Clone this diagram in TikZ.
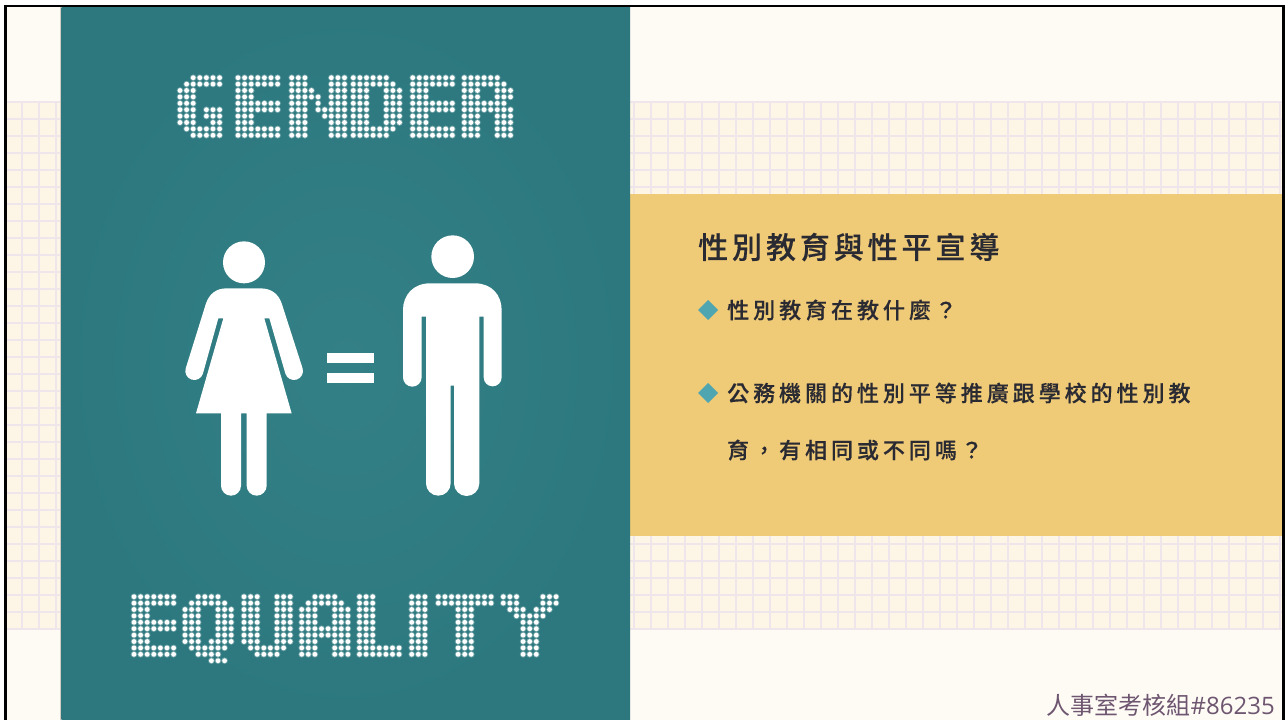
\documentclass[tikz,border=0pt]{standalone}
\usepackage{fontspec}
\newfontfamily\cjktitle[LetterSpace=13,FakeBold=0.35]{Noto Sans CJK TC Medium}
\newfontfamily\cjkbody[LetterSpace=18,FakeBold=0.35]{Noto Sans CJK TC Medium}
\newfontfamily\cjkplain{Noto Sans CJK TC}
\newfontfamily\latinplain{Open Sans}
\definecolor{teal}{HTML}{2C787E}
\definecolor{tealin}{HTML}{338086}
\definecolor{paper}{HTML}{FEFBF5}
\definecolor{cell}{HTML}{FDF6E7}
\definecolor{gridline}{HTML}{EEE6EA}
\definecolor{band}{HTML}{EFCA77}
\definecolor{ink}{HTML}{2A2A33}
\definecolor{gem}{HTML}{4FA6B0}
\definecolor{foot}{HTML}{6E5670}
\definecolor{paneledge}{HTML}{CFCBC2}
\tikzset{
  gridstroke/.style={draw=gridline,line width=2pt},
  dotfill/.style={fill=white},
  dothalo/.style={fill=white,fill opacity=0.3},
  figfill/.style={fill=white},
  gemfill/.style={fill=gem},
  titletext/.style={anchor=west,inner sep=0pt,text=ink,font={\cjktitle\fontsize{30}{32}\selectfont}},
  bodytext/.style={anchor=west,inner sep=0pt,text=ink,font={\cjkbody\fontsize{22}{24}\selectfont}},
  foottext/.style={anchor=east,inner sep=0pt,text=foot}
}
\newcommand\dmscan[1]{\ifx#1.\else\ifx#1x\fill[dothalo] (\xx,\yy) circle[radius=3.3];\fill[dotfill] (\xx,\yy) circle[radius=2.4];\fi\pgfmathsetmacro\xx{\xx+6.6}\expandafter\dmscan\fi}
\newcommand\dmletter[3]{%
  \foreach \rowtxt [count=\i from 0] in {#3} {%
    \pgfmathsetmacro\yy{#2+\i*6.4}\def\xx{#1}\expandafter\dmscan\rowtxt.}}
\begin{document}
\begin{tikzpicture}[x=1pt,y=-1pt]
\useasboundingbox (0,0) rectangle (1285,720);
\fill[white] (0,0) rectangle (1285,720);
\fill[black] (4,5) rectangle (1285,720);
\fill[paper] (7,7) rectangle (1282,720);
% grid band
\fill[cell] (7,102) rectangle (1282,629);
\foreach \gx in {22,39,...,1280} \draw[gridstroke] (\gx,102) -- (\gx,629);
\foreach \gy in {102,119,...,629} \draw[gridstroke] (7,\gy) -- (1282,\gy);
% yellow band
\fill[band] (630,194) rectangle (1282,536);
% teal panel
\fill[paneledge] (60.3,7) rectangle (62,720);
\fill[teal] (61.5,7) rectangle (630,720);
\shade[inner color=tealin,outer color=teal] (61.5,7) rectangle (630,720);
% GENDER
\def\ga{77.7}
\dmletter{180}{\ga}{--xxxxx,-xxxxxx,xxx----,xxx----,xxx----,xxx-xxx,xxx-xxx,xxx--xx,-xxxxxx,--xxxxx}
\dmletter{238}{\ga}{xxxxxxx,xxxxxxx,xxx----,xxx----,xxxxxxx,xxxxxxx,xxx----,xxx----,xxxxxxx,xxxxxxx}
\dmletter{291.7}{\ga}{xxx---xxx,xxx---xxx,xxxx--xxx,xxxxx-xxx,xxx-x-xxx,xxx-xxxxx,xxx--xxxx,xxx---xxx,xxx---xxx,xxx---xxx}
\dmletter{353.3}{\ga}{xxxxxx--,xxxxxxx-,xxx--xxx,xxx--xxx,xxx--xxx,xxx--xxx,xxx--xxx,xxx--xxx,xxxxxxx-,xxxxxx--}
\dmletter{412.7}{\ga}{xxxxxxx,xxxxxxx,xxx----,xxx----,xxxxxxx,xxxxxxx,xxx----,xxx----,xxxxxxx,xxxxxxx}
\dmletter{464.3}{\ga}{xxxxxx--,xxxxxxx-,xxx--xxx,xxx--xxx,xxxxxxx-,xxxxxxxx,xxx--xxx,xxx--xxx,xxx--xxx,xxx--xxx}
% EQUALITY
\def\gb{596.7}
\dmletter{134}{\gb}{xxxxxxx,xxxxxxx,xxx----,xxx----,xxxxxxx,xxxxxxx,xxx----,xxx----,xxxxxxx,xxxxxxx}
\dmletter{185}{\gb}{--xxxx--,-xxxxxx-,xxx--xxx,xxx--xxx,xxx--xxx,xxx--xxx,xxx--xxx,xxx-xxxx,-xxxxxx-,--xxxx--,----xxx-}
\dmletter{244}{\gb}{xxx--xxx,xxx--xxx,xxx--xxx,xxx--xxx,xxx--xxx,xxx--xxx,xxx--xxx,xxx--xxx,-xxxxxx-,--xxxx--}
\dmletter{301.7}{\gb}{--xxxx--,-xxxxxx-,xxx--xxx,xxx--xxx,xxx--xxx,xxxxxxxx,xxxxxxxx,xxx--xxx,xxx--xxx,xxx--xxx}
\dmletter{359.5}{\gb}{xxx----,xxx----,xxx----,xxx----,xxx----,xxx----,xxx----,xxx----,xxxxxxx,xxxxxxx}
\dmletter{411.7}{\gb}{xxx,xxx,xxx,xxx,xxx,xxx,xxx,xxx,xxx,xxx}
\dmletter{438.3}{\gb}{xxxxxxxxx,xxxxxxxxx,---xxx---,---xxx---,---xxx---,---xxx---,---xxx---,---xxx---,---xxx---,---xxx---}
\dmletter{503.3}{\gb}{xxx---xxx,xxx---xxx,-xxx-xxx-,--xxxxx--,---xxx---,---xxx---,---xxx---,---xxx---,---xxx---,---xxx---}
% figures, in 3x crop units
\begin{scope}[shift={(170,220)},x=0.33333pt,y=-0.33333pt]
  \fill[figfill] (222,127) circle[radius=63];
  \fill[figfill] (170,205) -- (270,205) .. controls (305,205) and (325,222) .. (335,250)
    -- (397.7,444.8) arc[start angle=-17.6,end angle=162.4,radius=27]
    -- (298,295) -- (283,295) -- (365,580) -- (290,580) -- (290,797)
    arc[start angle=0,end angle=180,radius=30] -- (230,580) -- (213,580) -- (213,797)
    arc[start angle=0,end angle=180,radius=30] -- (153,580) -- (78,580) -- (160,295) -- (145,295)
    -- (98.7,461.2) arc[start angle=17.6,end angle=197.6,radius=27]
    -- (108,250) .. controls (118,222) and (138,205) .. (170,205) -- cycle;
  \fill[figfill] (472,400) rectangle (612,430);
  \fill[figfill] (472,458) rectangle (612,488);
  \fill[figfill] (848,110) circle[radius=64];
  \fill[figfill] (780,190) -- (915,190) .. controls (965,190) and (995,225) .. (995,270)
    -- (995,472) arc[start angle=0,end angle=180,radius=27] -- (941,290) -- (928,290) -- (928,790)
    arc[start angle=0,end angle=180,radius=38] -- (852,497) -- (842,497) -- (842,790)
    arc[start angle=0,end angle=180,radius=37] -- (768,290) -- (755,290) -- (755,472)
    arc[start angle=0,end angle=180,radius=28] -- (699,270)
    .. controls (699,225) and (730,190) .. (780,190) -- cycle;
\end{scope}
% text
\node[titletext] (title) at (698,247) {性別教育與性平宣導};
\fill[gemfill] (698,310) -- (708,300) -- (718,310) -- (708,320) -- cycle;
\fill[gemfill] (698,393) -- (708,383) -- (718,393) -- (708,403) -- cycle;
\node[bodytext] (lineone) at (727,310) {性別教育在教什麼？};
\node[bodytext] (linetwo) at (727,393) {公務機關的性別平等推廣跟學校的性別教};
\node[bodytext] (linethree) at (727,450) {育，有相同或不同嗎？};
\node[foottext] (footer) at (1275,705) {\fontsize{24}{26}\selectfont\cjkplain 人事室考核組\latinplain\fontsize{24}{26}\selectfont \#86235};
\end{tikzpicture}
\end{document}
